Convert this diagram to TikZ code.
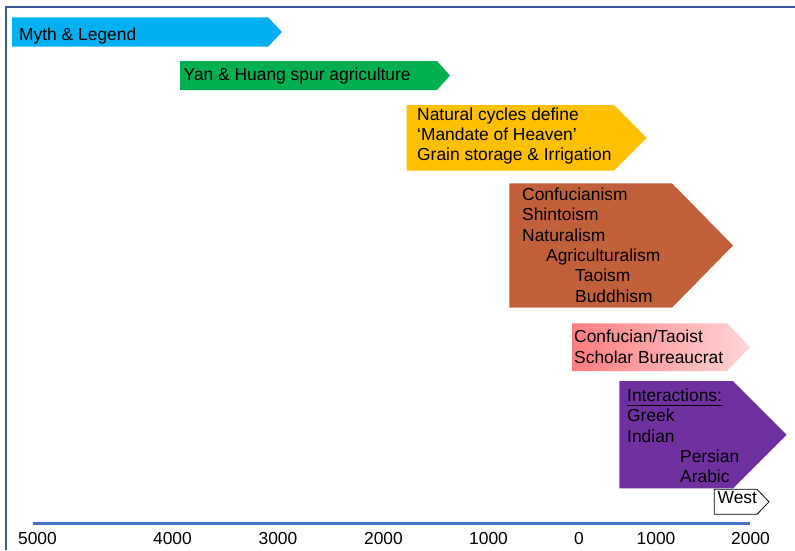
\documentclass[tikz,border=0pt]{standalone}
\usepackage{fontspec}
\setmainfont{Liberation Sans}
\usetikzlibrary{calc}
\definecolor{frameblue}{RGB}{59,89,152}
\definecolor{axisblue}{RGB}{68,114,196}
\definecolor{mythcyan}{RGB}{0,176,240}
\definecolor{agrigreen}{RGB}{0,176,80}
\definecolor{cyclegold}{RGB}{255,192,0}
\definecolor{philbrown}{RGB}{193,96,58}
\definecolor{scholarred}{RGB}{255,124,128}
\definecolor{scholarpink}{RGB}{255,214,214}
\definecolor{interpurple}{RGB}{112,48,160}

\begin{document}
\begin{tikzpicture}[x=1pt,y=-1pt,
  lbl/.style={anchor=base west, inner sep=0pt, font=\fontsize{17.4}{20}\selectfont, text=black},
  ticklbl/.style={anchor=base, inner sep=0pt, font=\fontsize{17.4}{20}\selectfont, text=black},
]
\useasboundingbox (0,0) rectangle (795,550);
\fill[white] (0,0) rectangle (795,550);

% frame along the top and left
\draw[frameblue, line width=2pt] (5.7,550) -- (5.7,7.2) -- (795,7.2);

% period arrows
\fill[mythcyan]    (12,17.3)    -- (268,17.3)  -- (282,32)    -- (268,46.7)  -- (12,46.7)    -- cycle;
\fill[agrigreen]   (180,61)     -- (437,61)    -- (450,75.5)  -- (437,90)    -- (180,90)     -- cycle;
\fill[cyclegold]   (406.7,105)  -- (614,105)   -- (646.7,138) -- (614,170.7) -- (406.7,170.7) -- cycle;
\fill[philbrown]   (509.3,183.3) -- (672,183.3) -- (733,245.5) -- (672,307.7) -- (509.3,307.7) -- cycle;
\shade[left color=scholarred, right color=scholarpink]
                   (572,323.3)  -- (727,323.3) -- (750,347.2) -- (727,371)   -- (572,371)    -- cycle;
\fill[interpurple] (619.3,381)  -- (733,381)   -- (786.7,434.7) -- (733,488.3) -- (619.3,488.3) -- cycle;
\draw[black, line width=0.8pt, fill=white]
                   (714.3,489.3) -- (757,489.3) -- (769,501.8) -- (757,514.3) -- (714.3,514.3) -- cycle;

% labels
\node[lbl] (myth) at (19,40) {Myth \& Legend};
\node[lbl] (yan)  at (183.5,80) {Yan \& Huang spur agriculture};

\node[lbl] (nat1) at (417,120) {Natural cycles define};
\node[lbl] (nat2) at (417,140.3) {‘Mandate of Heaven’};
\node[lbl] (nat3) at (417,160.6) {Grain storage \& Irrigation};

\node[lbl] (phil1) at (522,200.5) {Confucianism};
\node[lbl] (phil2) at (522,220.8) {Shintoism};
\node[lbl] (phil3) at (522,241.1) {Naturalism};
\node[lbl] (phil4) at (546,261.4) {Agriculturalism};
\node[lbl] (phil5) at (575,281.7) {Taoism};
\node[lbl] (phil6) at (575,302) {Buddhism};

\node[lbl] (sch1) at (574,342.7) {Confucian/Taoist};
\node[lbl] (sch2) at (574,363.2) {Scholar Bureaucrat};

\node[lbl] (inter) at (627,401.7) {Interactions:};
\draw[black, line width=1.1pt] ([yshift=-3.6pt]inter.base west) -- ([yshift=-3.6pt]inter.base east);
\node[lbl] (greek)   at (627,421.9) {Greek};
\node[lbl] (indian)  at (627,442.2) {Indian};
\node[lbl] (persian) at (680,462.5) {Persian};
\node[lbl] (arabic)  at (680,482.8) {Arabic};

\node[lbl] (west) at (717.5,503) {West};

% time axis
\coordinate (axisL) at (33,523);
\coordinate (axisR) at (750,523);
\draw[axisblue, line width=3pt] (axisL) -- (axisR);
\node[ticklbl] (t5000) at (37.5,544.3) {5000};
\node[ticklbl] (t4000) at (172.5,544.3) {4000};
\node[ticklbl] (t3000) at (278,544.3) {3000};
\node[ticklbl] (t2000) at (383.5,544.3) {2000};
\node[ticklbl] (t1000) at (488.5,544.3) {1000};
\node[ticklbl] (t0)    at (579,544.3) {0};
\node[ticklbl] (a1000) at (656,544.3) {1000};
\node[ticklbl] (a2000) at (750.5,544.3) {2000};
\end{tikzpicture}
\end{document}
